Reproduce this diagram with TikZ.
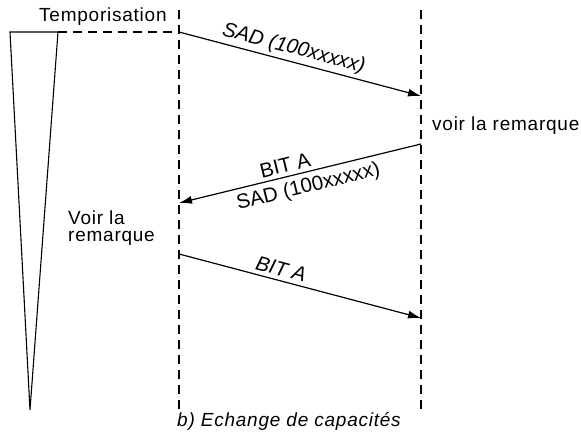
\documentclass[tikz,border=0pt]{standalone}
\usepackage{fontspec}
\setmainfont{Liberation Sans}[LetterSpace=4]
\newfontfamily\lblfont{Liberation Sans}
\usetikzlibrary{arrows.meta}

\begin{document}
\begin{tikzpicture}[x=1pt,y=-1pt]
\tikzstyle{every node}=[font=\fontsize{19}{17}\selectfont, inner sep=0pt]
\tikzstyle{lbl}=[font=\lblfont\fontsize{20.5}{20}\selectfont]
\tikzstyle{slant}=[font=\lblfont\fontsize{20.5}{20}\selectfont\itshape]
\tikzstyle{lifeline}=[line width=1.1pt, dash pattern=on 9pt off 6pt]
\tikzstyle{msg}=[line width=1.2pt, -{Latex[length=13pt,width=8pt]}]
\useasboundingbox (0,0) rectangle (581,443);
\coordinate (LeftTop)  at (179,10);
\coordinate (LeftBot)  at (179,412);
\coordinate (RightTop) at (421,10);
\coordinate (RightBot) at (421,412);
\coordinate (TimerA)   at (10,32);
\coordinate (TimerB)   at (58,32);
\coordinate (TimerEnd) at (30,410);
\coordinate (SadOut)   at (179,32);
\coordinate (SadIn)    at (421,96);
\coordinate (BitOut)   at (421,144);
\coordinate (BitIn)    at (179,203);
\coordinate (BitOutB)  at (179,254);
\coordinate (BitInB)   at (421,318);
\draw [lifeline] (LeftTop) -- (LeftBot) ;% left station
\draw [lifeline] (RightTop) -- (RightBot) ;% right station
\draw [line width=1.1pt] (TimerA) -- (TimerB) -- (TimerEnd) -- cycle ;% timer
\draw [lifeline] (TimerB) -- (SadOut) ;
\draw [msg] (SadOut) -- node[slant, sloped, above=3pt, pos=0.46] (SadLbl) {SAD (100xxxxx)} (SadIn) ;
\draw [msg] (BitOut) -- node[lbl, sloped, above=4pt, pos=0.55] (BitLbl) {BIT A}
                        node[lbl, sloped, below=5pt, pos=0.48] (SadLblB) {SAD (100xxxxx)} (BitIn) ;
\draw [msg] (BitOutB) -- node[slant, sloped, above=4pt, pos=0.41] (BitLblB) {BIT A} (BitInB) ;
\node[anchor=base west] (Tempo) at (39,22) {Temporisation};
\node[anchor=base west] (NoteR) at (432,131) {voir la remarque};
\node[anchor=base west, align=left] (NoteL) at (68,242) {Voir la\\remarque};
\node[font=\fontsize{19}{19}\selectfont\itshape, anchor=base west] (Caption) at (177,427) {b) Echange de capacités};
\end{tikzpicture}
\end{document}
